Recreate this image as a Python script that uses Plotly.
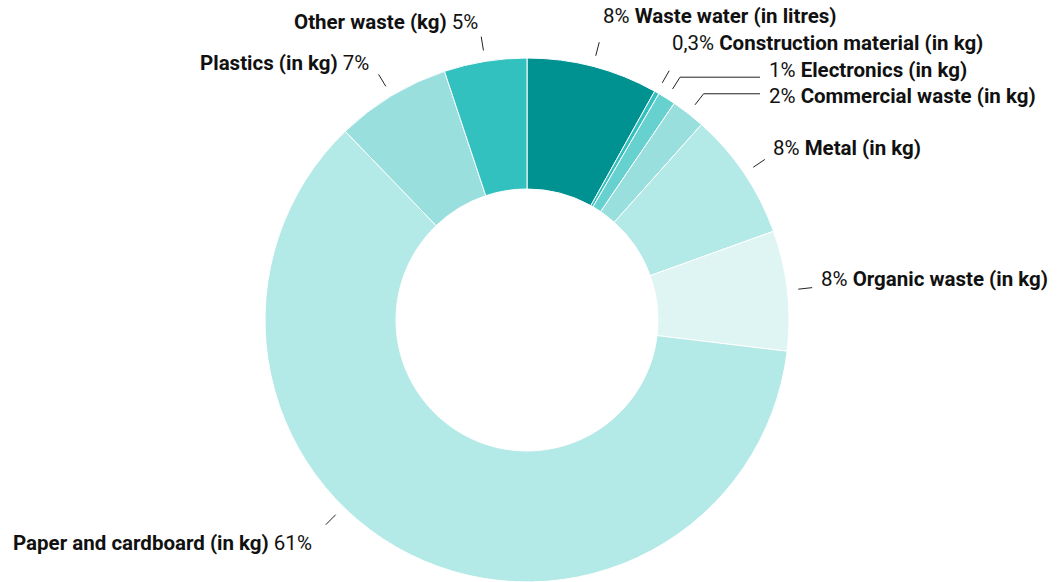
import math
import plotly.graph_objects as go

# ---- data ----
categories = [
    "Waste water (in litres)",
    "Construction material (in kg)",
    "Electronics (in kg)",
    "Commercial waste (in kg)",
    "Metal (in kg)",
    "Organic waste (in kg)",
    "Paper and cardboard (in kg)",
    "Plastics (in kg)",
    "Other waste (kg)",
]
values = [8.1, 0.3, 1.1, 2.1, 7.9, 7.4, 60.9, 7.1, 5.1]
pct_labels = ["8%", "0,3%", "1%", "2%", "8%", "8%", "61%", "7%", "5%"]

# ---- style / layout ----
colors = ["#009191", "#33c1bf", "#66d1cf", "#99dfdd", "#b3e9e6",
          "#dff5f3", "#b3e9e6", "#99dfdd", "#33c1bf"]
W, H = 1061, 582
CX, CY, R = 527, 320, 262          # pie centre / outer radius in px
R0, R1 = R + 11, R + 25            # leader tick radii

# label side: 'r' = pct first then name (left-anchored), 'l' = name then pct (right-anchored)
label_side = ["r", "r", "r", "r", "r", "r", "l", "l", "l"]
# label anchor points (px) and optional elbow end x for leader lines
label_pos = [(603, 16), (672, 43), (769, 70), (769, 96), (773, 148),
             (821, 279), (312, 543), (369, 63), (478, 22)]
elbow_x = [None, None, 760, 760, None, None, None, None, None]
angle_override = {6: 224.5}

fig = go.Figure(go.Pie(
    labels=categories, values=values, sort=False, direction="clockwise",
    rotation=0, hole=0.5, textinfo="none", hoverinfo="label+value",
    marker=dict(colors=colors, line=dict(color="#ffffff", width=1)),
    domain=dict(x=[(CX - R) / W, (CX + R) / W], y=[1 - (CY + R) / H, 1 - (CY - R) / H]),
    showlegend=False,
))

def px2paper(x, y):
    return x / W, 1 - y / H

total = sum(values)
cum = 0.0
shapes, annotations = [], []
for i, v in enumerate(values):
    mid = (cum + v / 2) / total * 360.0
    cum += v
    ang = math.radians(angle_override.get(i, mid))
    sx, sy = math.sin(ang), -math.cos(ang)
    x0, y0 = CX + R0 * sx, CY + R0 * sy
    x1, y1 = CX + R1 * sx, CY + R1 * sy
    pts = [(x0, y0), (x1, y1)]
    if elbow_x[i] is not None:
        pts.append((elbow_x[i], y1))
    for (a, b), (c, d) in zip(pts[:-1], pts[1:]):
        p0 = px2paper(a, b); p1 = px2paper(c, d)
        shapes.append(dict(type="line", xref="paper", yref="paper",
                           x0=p0[0], y0=p0[1], x1=p1[0], y1=p1[1],
                           line=dict(color="#222222", width=1)))
    lx, ly = label_pos[i]
    if label_side[i] == "r":
        text = f"{pct_labels[i]} <b>{categories[i]}</b>"
        xanchor = "left"
    else:
        text = f"<b>{categories[i]}</b> {pct_labels[i]}"
        xanchor = "right"
    px_, py_ = px2paper(lx, ly)
    annotations.append(dict(x=px_, y=py_, xref="paper", yref="paper", text=text,
                            showarrow=False, xanchor=xanchor, yanchor="middle",
                            xshift=(-2 if xanchor == "left" else 2),
                            font=dict(family="Roboto", size=20.5, color="#111111")))

fig.update_layout(
    width=W, height=H, margin=dict(l=0, r=0, t=0, b=0),
    paper_bgcolor="#ffffff", plot_bgcolor="#ffffff",
    shapes=shapes, annotations=annotations,
    font=dict(family="Roboto"),
)
fig.write_html("out.html")
